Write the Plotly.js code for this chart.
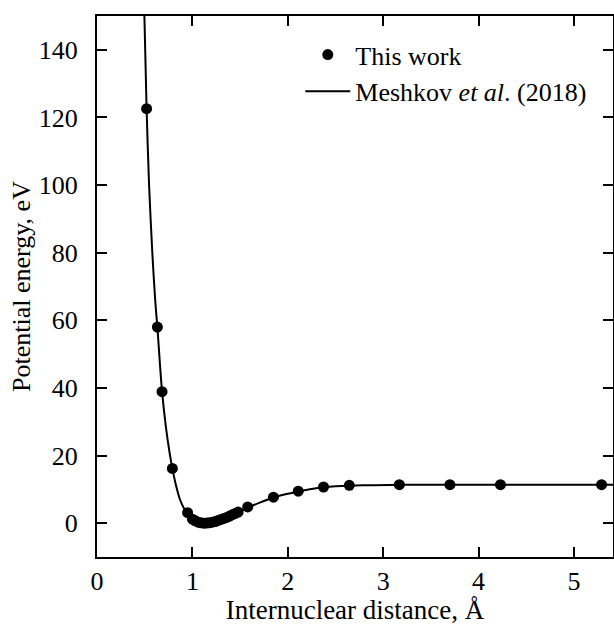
<!DOCTYPE html>
<html>
<head>
<meta charset="utf-8">
<script src="https://cdn.plot.ly/plotly-3.0.1.min.js"></script>
<style>html,body{margin:0;padding:0;background:#fff;}#chart{width:614px;height:625px;}</style>
</head>
<body>
<div id="chart"></div>
<script>
// "This work" points
const workX = [0.52, 0.633, 0.682, 0.79, 0.95, 1.0, 1.03, 1.06, 1.09, 1.12, 1.15, 1.18, 1.21, 1.24, 1.27, 1.30, 1.33, 1.36, 1.39, 1.42, 1.45, 1.48, 1.58, 1.85, 2.11, 2.375, 2.645, 3.17, 3.70, 4.23, 5.29];
const workY = [122.6, 58.0, 38.9, 16.2, 3.1, 1.2, 0.7, 0.3, 0.1, 0.0, 0.05, 0.15, 0.3, 0.5, 0.8, 1.1, 1.4, 1.7, 2.1, 2.5, 2.9, 3.3, 4.8, 7.7, 9.45, 10.7, 11.2, 11.4, 11.4, 11.4, 11.4];
// Meshkov et al. (2018) curve
const refX = [0.497, 0.52, 0.546, 0.58, 0.61, 0.633, 0.66, 0.682, 0.72, 0.76, 0.79, 0.83, 0.87, 0.91, 0.95, 1.0, 1.05, 1.1, 1.13, 1.2, 1.3, 1.4, 1.5, 1.6, 1.7, 1.85, 2.0, 2.12, 2.25, 2.38, 2.5, 2.65, 2.9, 3.2, 3.7, 4.5, 5.41];
const refY = [150, 122.6, 100, 80, 66, 58, 47, 39, 29, 21, 16.2, 11, 7, 4.5, 2.8, 1.2, 0.4, 0.05, 0, 0.25, 1.1, 2.3, 3.5, 4.8, 6.0, 7.6, 8.7, 9.4, 10.1, 10.6, 10.9, 11.1, 11.25, 11.35, 11.4, 11.4, 11.4];
const xTicks = [0, 1, 2, 3, 4, 5];
const yTicks = [0, 20, 40, 60, 80, 100, 120, 140];

const font = {family: '"Liberation Serif", "Times New Roman", serif', color: '#000'};

const traces = [
  {x: workX, y: workY, mode: 'markers', name: 'This work', marker: {color: '#000', size: 11}},
  {x: refX, y: refY, mode: 'lines', name: 'Meshkov <i>et al</i>. (2018)', line: {color: '#000', width: 2, shape: 'spline', smoothing: 0.8}}
];

const axisCommon = {
  showgrid: false, zeroline: false, showline: true, linecolor: '#000', linewidth: 2,
  mirror: 'allticks', ticks: 'inside', ticklen: 10, tickwidth: 2, tickcolor: '#000',
  tickfont: Object.assign({size: 26}, font)
};

const layout = {
  width: 614, height: 625,
  margin: {l: 97, r: 1, t: 16, b: 68},
  paper_bgcolor: '#fff', plot_bgcolor: '#fff',
  font: Object.assign({size: 26}, font),
  showlegend: true,
  legend: {x: 0.394, xanchor: 'left', y: 0.972, yanchor: 'top', bgcolor: 'rgba(0,0,0,0)', font: Object.assign({size: 26}, font), tracegroupgap: 0, itemwidth: 45},
  xaxis: Object.assign({}, axisCommon, {range: [0, 5.41], tickvals: xTicks, ticktext: xTicks.map(String),
    title: {text: 'Internuclear distance, Å', font: Object.assign({size: 27}, font), standoff: 10}}),
  yaxis: Object.assign({}, axisCommon, {range: [-10, 150], tickvals: yTicks, ticktext: yTicks.map(String), ticklabelstandoff: 12,
    title: {text: 'Potential energy, eV', font: Object.assign({size: 26}, font), standoff: 1}})
};

Plotly.newPlot('chart', traces, layout, {displayModeBar: false, staticPlot: true});
</script>
</body>
</html>
